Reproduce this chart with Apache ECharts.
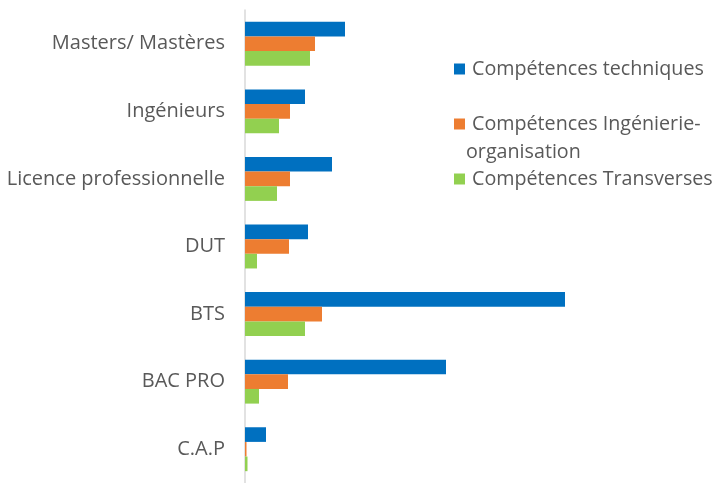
<!DOCTYPE html>
<html><head><meta charset="utf-8">
<script src="https://cdn.jsdelivr.net/npm/echarts@6/dist/echarts.min.js"></script>
<style>html,body{margin:0;padding:0;background:#fff}#c{width:716px;height:483px}</style>
</head><body><div id="c"></div>
<script>
const categories = ['Masters/ Mastères','Ingénieurs','Licence professionnelle','DUT','BTS','BAC PRO','C.A.P'];
const seriesNames = ['Compétences techniques','Compétences Ingénierie-organisation','Compétences Transverses'];
const legendLine1 = ['Compétences techniques','Compétences Ingénierie-','Compétences Transverses'];
const legendLine2 = 'organisation';
const techniques = [100, 60, 87, 63, 320, 201, 21];
const ingenierie = [70, 45, 45, 44, 77, 43, 1.5];
const transverses = [65, 34, 32, 12, 60, 14, 2.5];
const colors = ['#0070C0','#ED7D31','#92D050'];
const font = 'Open Sans';
const txt = '#595959';
const fs = 20;
const lfs = 19.7;

const chart = echarts.init(document.getElementById('c'));
const mkSeries = (name, data, color) => ({
  name, type:'bar', data, barGap:'0%', barCategoryGap:'35%',
  itemStyle:{color}, emphasis:{disabled:true}, animation:false
});
const mkLegend = (i, top) => ({
  data:[seriesNames[i]], left:449, top, orient:'vertical', itemWidth:11, itemHeight:11, itemGap:0,
  icon:'rect', selectedMode:false,
  formatter:()=>legendLine1[i],
  textStyle:{color:txt, fontFamily:font, fontSize:lfs, padding:[0,0,0,2]}
});
chart.setOption({
  animation:false,
  grid:{left:245, right:151, top:10, height:476, containLabel:false},
  xAxis:{type:'value', min:0, max:320, show:false},
  yAxis:{type:'category', data:categories, inverse:true,
    axisLine:{show:true, lineStyle:{color:'#D9D9D9', width:1.5}},
    axisTick:{show:false},
    axisLabel:{color:txt, fontFamily:font, fontSize:fs, margin:20}
  },
  legend:[ mkLegend(0, 54), mkLegend(1, 109), mkLegend(2, 164) ],
  graphic:[{type:'text', left:466, top:142, silent:true,
    style:{text:legendLine2, fill:txt, font:lfs+'px "'+font+'"'}}],
  series:[
    mkSeries(seriesNames[0], techniques, colors[0]),
    mkSeries(seriesNames[1], ingenierie, colors[1]),
    mkSeries(seriesNames[2], transverses, colors[2])
  ]
});
</script></body></html>
